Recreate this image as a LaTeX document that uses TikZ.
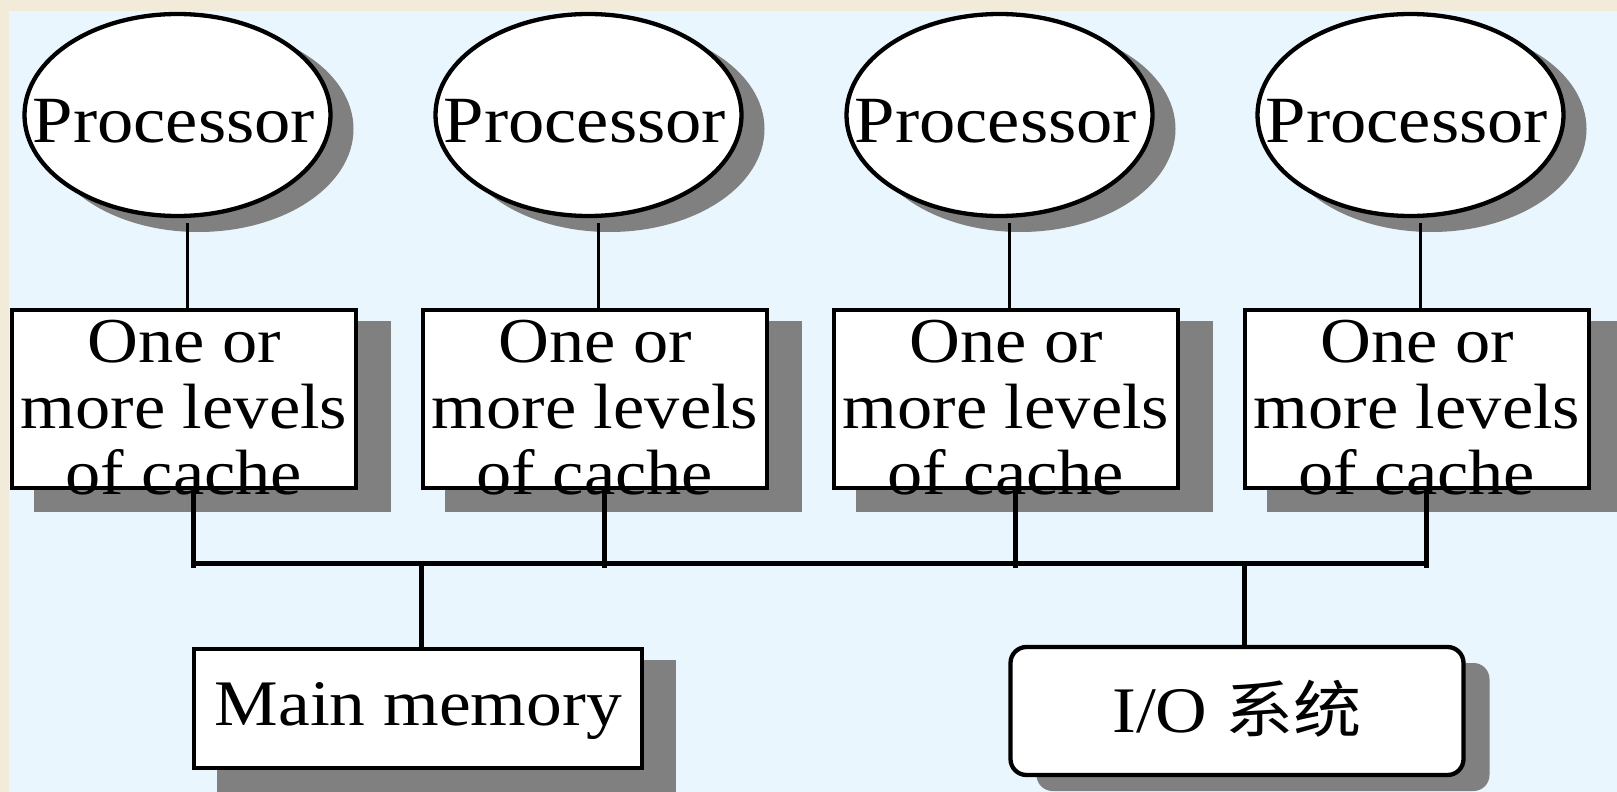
\documentclass[tikz,border=0pt]{standalone}
\usepackage{fontspec}
\setmainfont[FakeStretch=1.1]{Liberation Serif}
\newfontfamily\cjkfont[FakeStretch=1.1]{Noto Sans CJK SC}
\usetikzlibrary{shapes.geometric,calc}
\definecolor{pagebg}{HTML}{F3EBD9}
\definecolor{slidebg}{HTML}{EAF6FE}
\definecolor{dropshade}{HTML}{808080}
\pgfdeclarelayer{back}
\pgfsetlayers{back,main}
\begin{document}
\begin{tikzpicture}[x=1pt,y=-1pt,
  procnode/.style={ellipse, draw, line width=4.3pt, fill=white, inner sep=0pt, outer sep=0pt,
    minimum width=306pt, minimum height=202pt, font=\fontsize{66}{66}\selectfont,
    text height=54pt, text depth=0pt},
  cachenode/.style={rectangle, draw, line width=4.3pt, fill=white, inner sep=0pt, outer sep=0pt,
    minimum width=344pt, minimum height=178pt, font=\fontsize{64}{66}\selectfont,
    text height=0pt, text depth=74pt},
  memnode/.style={rectangle, draw, line width=4.3pt, fill=white, inner sep=0pt, outer sep=0pt,
    minimum width=448pt, minimum height=119pt, font=\fontsize{65}{66}\selectfont,
    text height=33pt, text depth=0pt},
  ionode/.style={rectangle, rounded corners=16pt, draw, line width=4.3pt, fill=white, inner sep=0pt,
    outer sep=0pt, minimum width=453pt, minimum height=128pt, font=\fontsize{65}{66}\selectfont,
    text height=42pt, text depth=0pt},
  thinlink/.style={line width=3pt},
  buslink/.style={line width=5pt},
  shadowfill/.style={fill=dropshade}]
\useasboundingbox (0,0) rectangle (1617,792);

% processors
\node[procnode] (p1) at (177.5,115) {\makebox[0pt]{Processor\hspace{7pt}}};
\node[procnode] (p2) at (588.5,115) {\makebox[0pt]{Processor\hspace{7pt}}};
\node[procnode] (p3) at (999.5,115) {\makebox[0pt]{Processor\hspace{7pt}}};
\node[procnode] (p4) at (1410.5,115) {\makebox[0pt]{Processor\hspace{7pt}}};

% caches
\node[cachenode] (c1) at (184,399) {\begin{tabular}[t]{@{}c@{}}One or\\more levels\\of cache\end{tabular}};
\node[cachenode] (c2) at (595,399) {\begin{tabular}[t]{@{}c@{}}One or\\more levels\\of cache\end{tabular}};
\node[cachenode] (c3) at (1006,399) {\begin{tabular}[t]{@{}c@{}}One or\\more levels\\of cache\end{tabular}};
\node[cachenode] (c4) at (1417,399) {\begin{tabular}[t]{@{}c@{}}One or\\more levels\\of cache\end{tabular}};

% memory and I/O
\node[memnode] (mem) at (418.3,708.5) {Main memory};
\node[ionode] (io) at (1237,711) {I/O {\cjkfont\fontsize{62}{66}\selectfont 系统}};

\begin{pgfonlayer}{back}
  \fill[pagebg] (0,0) rectangle (1617,792);
  \fill[slidebg] (9,11) rectangle (1617,792);
  % drop shadows
  \foreach \i in {1,...,4} {
    \fill[shadowfill] ($(p\i.center)+(21,14)$) ellipse [x radius=155pt, y radius=103pt];
    \fill[shadowfill] ($(c\i.north west)+(22,11)$) rectangle ($(c\i.south east)+(35,24)$);
  }
  \fill[shadowfill] ($(mem.north west)+(23,11)$) rectangle ($(mem.south east)+(34,24)$);
  \fill[shadowfill, rounded corners=16pt] ($(io.north west)+(26,16)$) rectangle ($(io.south east)+(26,16)$);
  % processor to cache links and cache drops onto the bus
  \foreach \i in {1,...,4} {
    \draw[thinlink] ($(c\i.north)+(3,0)$) -- ($(c\i.north |- p\i.south)+(3,7)$);
    \draw[buslink] ($(c\i.south)+(9,0)$) -- ++(0,80);
  }
  % system bus
  \coordinate (busL) at ($(c1.south)+(9,75)$);
  \coordinate (busR) at ($(c4.south)+(9,75)$);
  \draw[buslink] (busL) -- (busR);
  \path ($(mem.north)+(3.5,0)$) coordinate (memtop);
  \path ($(io.north)+(7,0)$) coordinate (iotop);
  \draw[buslink] (memtop) -- (memtop |- busL);
  \draw[buslink] (iotop) -- (iotop |- busL);
\end{pgfonlayer}
\end{tikzpicture}
\end{document}
